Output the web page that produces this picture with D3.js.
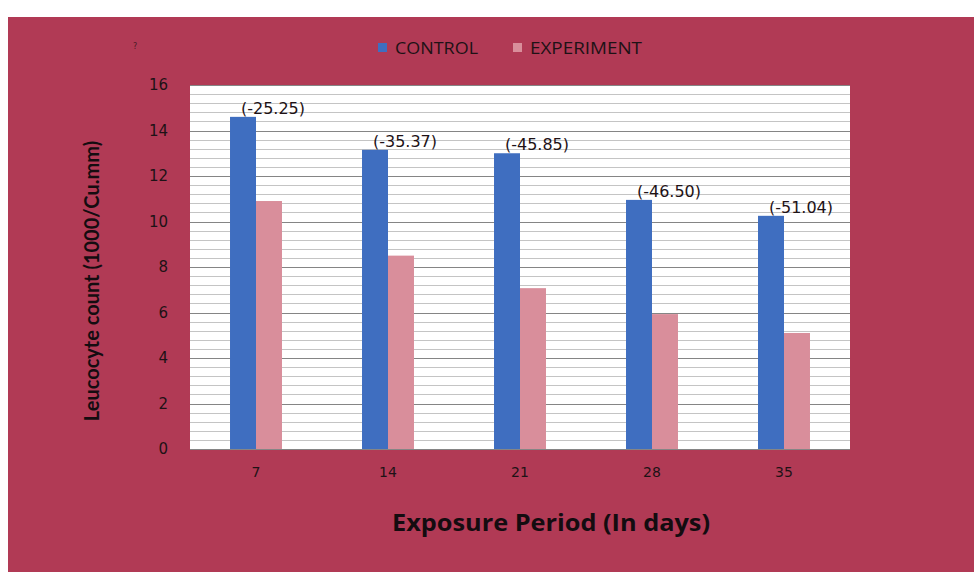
<!DOCTYPE html>
<html>
<head>
<meta charset="utf-8">
<script src="https://cdn.jsdelivr.net/npm/d3@7"></script>
<style>
  html, body { margin: 0; padding: 0; background: #ffffff; }
  svg { display: block; }
</style>
</head>
<body>
<svg id="chart" width="974" height="572"></svg>
<script>
const categories = ["7", "14", "21", "28", "35"];
const seriesNames = ["CONTROL", "EXPERIMENT"];
const control = [14.6, 13.15, 13.0, 10.95, 10.25];
const experiment = [10.9, 8.5, 7.07, 5.93, 5.1];
const changeLabels = ["(-25.25)", "(-35.37)", "(-45.85)", "(-46.50)", "(-51.04)"];
const yTicks = [0, 2, 4, 6, 8, 10, 12, 14, 16];

const colors = { CONTROL: "#3f6ec0", EXPERIMENT: "#d98e9b" };
const bg = "#b13a55";
const textDark = "#1e1216";

const svg = d3.select("#chart");
const W = 974, H = 572;
const plot = { left: 190, right: 850, top: 85, bottom: 449 };

// background
svg.append("rect").attr("x", 0).attr("y", 0).attr("width", W).attr("height", H).attr("fill", "#ffffff");
svg.append("rect").attr("x", 8).attr("y", 17).attr("width", W - 8).attr("height", H - 17).attr("fill", bg);

// plot area
svg.append("rect").attr("x", plot.left).attr("y", plot.top)
  .attr("width", plot.right - plot.left).attr("height", plot.bottom - plot.top).attr("fill", "#ffffff");

const y = d3.scaleLinear().domain([0, 16]).range([plot.bottom, plot.top]);
const x0 = d3.scaleBand().domain(categories).range([plot.left, plot.right]).paddingInner(0).paddingOuter(0);
const x1 = d3.scaleBand().domain(seriesNames).range([0, x0.bandwidth()]).paddingInner(0).paddingOuter(1.54);

// minor gridlines
const minor = d3.range(0, 16.001, 0.4).filter(v => Math.abs(v / 2 - Math.round(v / 2)) > 1e-6);
svg.append("g").selectAll("line").data(minor).join("line")
  .attr("x1", plot.left).attr("x2", plot.right)
  .attr("y1", d => Math.round(y(d)) + 0.5).attr("y2", d => Math.round(y(d)) + 0.5)
  .attr("stroke", "#c4c4c4").attr("stroke-width", 1);

// major gridlines
svg.append("g").selectAll("line").data(yTicks.filter(d => d > 0)).join("line")
  .attr("x1", plot.left).attr("x2", plot.right)
  .attr("y1", d => Math.round(y(d)) + 0.5).attr("y2", d => Math.round(y(d)) + 0.5)
  .attr("stroke", "#858585").attr("stroke-width", 1);

// bars
const data = categories.map((c, i) => ({ cat: c, values: [
  { key: "CONTROL", v: control[i] }, { key: "EXPERIMENT", v: experiment[i] } ] }));

const groups = svg.append("g").selectAll("g").data(data).join("g")
  .attr("transform", d => `translate(${x0(d.cat)},0)`);
groups.selectAll("rect").data(d => d.values).join("rect")
  .attr("x", d => x1(d.key)).attr("width", x1.bandwidth())
  .attr("y", d => y(d.v)).attr("height", d => y(0) - y(d.v))
  .attr("fill", d => colors[d.key]);

// data labels
svg.append("g").selectAll("text").data(data).join("text")
  .attr("x", (d, i) => x0(d.cat) + x1("CONTROL") + x1.bandwidth() / 2 + 30)
  .attr("y", (d, i) => y(control[i]) - 3)
  .attr("text-anchor", "middle")
  .attr("font-family", "'DejaVu Sans', 'Open Sans', sans-serif")
  .attr("font-size", 16)
  .attr("fill", textDark)
  .text((d, i) => changeLabels[i]);

// axis baseline
svg.append("line").attr("x1", plot.left).attr("x2", plot.right)
  .attr("y1", plot.bottom + 0.5).attr("y2", plot.bottom + 0.5)
  .attr("stroke", "#858585");

// y axis
const yAxis = d3.axisLeft(y).tickValues(yTicks).tickSize(0).tickPadding(22).tickFormat(d3.format("d"));
const gy = svg.append("g").attr("transform", `translate(${plot.left},0)`).call(yAxis);
gy.select(".domain").remove();
gy.selectAll("text").attr("font-family", "'DejaVu Sans', sans-serif")
  .attr("font-size", 15).attr("fill", textDark);

// x axis
const xAxis = d3.axisBottom(x0).tickSize(0).tickPadding(18);
const gx = svg.append("g").attr("transform", `translate(0,${plot.bottom})`).call(xAxis);
gx.select(".domain").remove();
gx.selectAll("text").attr("font-family", "'DejaVu Sans', sans-serif")
  .attr("font-size", 14).attr("fill", textDark);

// axis titles
svg.append("text").attr("x", 551).attr("y", 531).attr("text-anchor", "middle")
  .attr("font-family", "'Open Sans', Lato, sans-serif").attr("font-weight", "bold")
  .attr("font-size", 23).attr("textLength", 318).attr("lengthAdjust", "spacingAndGlyphs")
  .attr("fill", "#140c10").text("Exposure Period (In days)");

svg.append("text").attr("transform", "translate(99,281) rotate(-90)").attr("text-anchor", "middle")
  .attr("font-family", "Lato, 'Open Sans', sans-serif").attr("font-weight", "bold")
  .attr("font-size", 20).attr("fill", "#140c10").text("Leucocyte count (1000/Cu.mm)");

// legend
const legend = svg.append("g");
const legendItems = [{ key: "CONTROL", x: 378, w: 83 }, { key: "EXPERIMENT", x: 513, w: 112 }];
legendItems.forEach(it => {
  legend.append("rect").attr("x", it.x).attr("y", 43).attr("width", 9).attr("height", 9).attr("fill", colors[it.key]);
  legend.append("text").attr("x", it.x + 17).attr("y", 54)
    .attr("font-family", "'Open Sans', Lato, sans-serif").attr("font-size", 17)
    .attr("textLength", it.w).attr("lengthAdjust", "spacingAndGlyphs")
    .attr("fill", textDark).text(it.key);
});

// stray mark
svg.append("text").attr("x", 133).attr("y", 49).attr("font-family", "'DejaVu Sans', sans-serif")
  .attr("font-size", 8).attr("fill", "#4a1a26").text("?");
</script>
</body>
</html>
